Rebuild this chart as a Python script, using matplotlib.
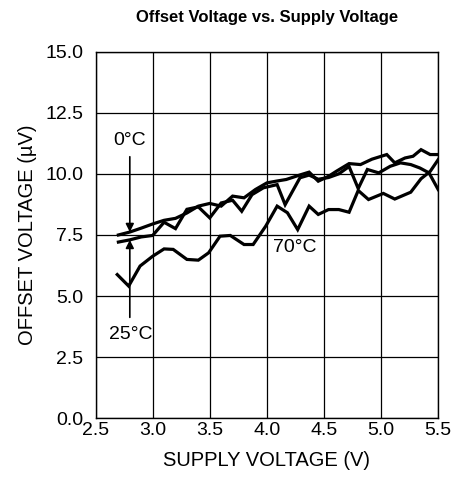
import matplotlib.pyplot as plt

plt.rcParams['font.family'] = ['Liberation Sans', 'DejaVu Sans']

# 0 degC
x0 = [2.7, 2.8, 2.9, 3.0, 3.1, 3.2, 3.3, 3.4, 3.5, 3.6, 3.7, 3.8, 3.9, 4.0, 4.08,
      4.17, 4.3, 4.37, 4.45, 4.54, 4.61, 4.72, 4.82, 4.92, 5.05, 5.12, 5.21,
      5.28, 5.35, 5.43, 5.5]
y0 = [7.5, 7.62, 7.78, 7.95, 8.1, 8.18, 8.4, 8.68, 8.79, 8.68, 9.09, 9.02, 9.36,
      9.63, 9.7, 9.77, 9.97, 10.07, 9.7, 9.9, 10.11, 10.42, 10.38, 10.6, 10.79,
      10.45, 10.65, 10.72, 10.99, 10.79, 10.79]

# 25 degC
x25 = [2.7, 2.8, 2.9, 3.0, 3.1, 3.2, 3.3, 3.4, 3.5, 3.6, 3.7, 3.78, 3.87, 3.97,
       4.09, 4.16, 4.29, 4.37, 4.45, 4.54, 4.63, 4.72, 4.8, 4.88, 4.98, 5.08,
       5.17, 5.26, 5.34, 5.42, 5.5]
y25 = [7.21, 7.3, 7.42, 7.48, 8.02, 7.76, 8.55, 8.65, 8.2, 8.81, 8.92, 8.47, 9.15,
       9.43, 9.56, 8.74, 9.84, 9.95, 9.78, 9.85, 10.0, 10.3, 9.4, 10.18, 10.04,
       10.31, 10.45, 10.38, 10.24, 10.04, 9.36]

# 70 degC
x70 = [2.69, 2.79, 2.89, 3.0, 3.1, 3.18, 3.3, 3.4, 3.49, 3.59, 3.68, 3.8, 3.88,
       3.99, 4.09, 4.18, 4.27, 4.37, 4.45, 4.54, 4.63, 4.72, 4.8, 4.89, 5.02,
       5.12, 5.26, 5.35, 5.43, 5.5]
y70 = [5.88, 5.41, 6.23, 6.63, 6.93, 6.91, 6.5, 6.47, 6.77, 7.45, 7.48, 7.11, 7.11,
       7.86, 8.68, 8.41, 7.72, 8.68, 8.34, 8.54, 8.54, 8.43, 9.32, 8.95, 9.2,
       8.97, 9.25, 9.8, 10.1, 10.58]

fig = plt.figure(figsize=(4.55, 4.87), dpi=100)
ax = fig.add_axes([0.21, 0.141, 0.753, 0.753])

for xs, ys in [(x0, y0), (x25, y25), (x70, y70)]:
    ax.plot(xs, ys, color='black', linewidth=2.3, solid_joinstyle='miter')

ax.set_xlim(2.5, 5.5)
ax.set_ylim(0, 15)
ax.set_xticks([2.5, 3.0, 3.5, 4.0, 4.5, 5.0, 5.5])
ax.set_yticks([0, 2.5, 5.0, 7.5, 10.0, 12.5, 15.0])
ax.set_xticklabels(['2.5', '3.0', '3.5', '4.0', '4.5', '5.0', '5.5'])
ax.set_yticklabels(['0.0', '2.5', '5.0', '7.5', '10.0', '12.5', '15.0'])
ax.tick_params(axis='both', length=0, labelsize=14)
ax.tick_params(axis='x', pad=3)
ax.tick_params(axis='y', pad=9)
ax.grid(True, color='black', linewidth=0.9)
for s in ax.spines.values():
    s.set_linewidth(1.0)

ax.set_xlabel('SUPPLY VOLTAGE (V)', fontsize=14.5, labelpad=8)
ax.set_ylabel('OFFSET VOLTAGE (µV)', fontsize=14.5, labelpad=6)
ax.set_title('Offset Voltage vs. Supply Voltage', fontsize=12, fontweight='bold', pad=21)

arrow = dict(arrowstyle='-|>', color='black', lw=1.2, mutation_scale=12,
             shrinkA=0, shrinkB=0)
ax.text(2.8, 11.35, '0°C', ha='center', va='center', fontsize=14)
ax.annotate('', xy=(2.8, 7.62), xytext=(2.8, 10.7), arrowprops=arrow)
ax.text(2.81, 3.43, '25°C', ha='center', va='center', fontsize=14)
ax.annotate('', xy=(2.8, 7.3), xytext=(2.8, 4.13), arrowprops=arrow)
ax.text(4.24, 7.0, '70°C', ha='center', va='center', fontsize=14)

plt.savefig('out.png', dpi=100)
